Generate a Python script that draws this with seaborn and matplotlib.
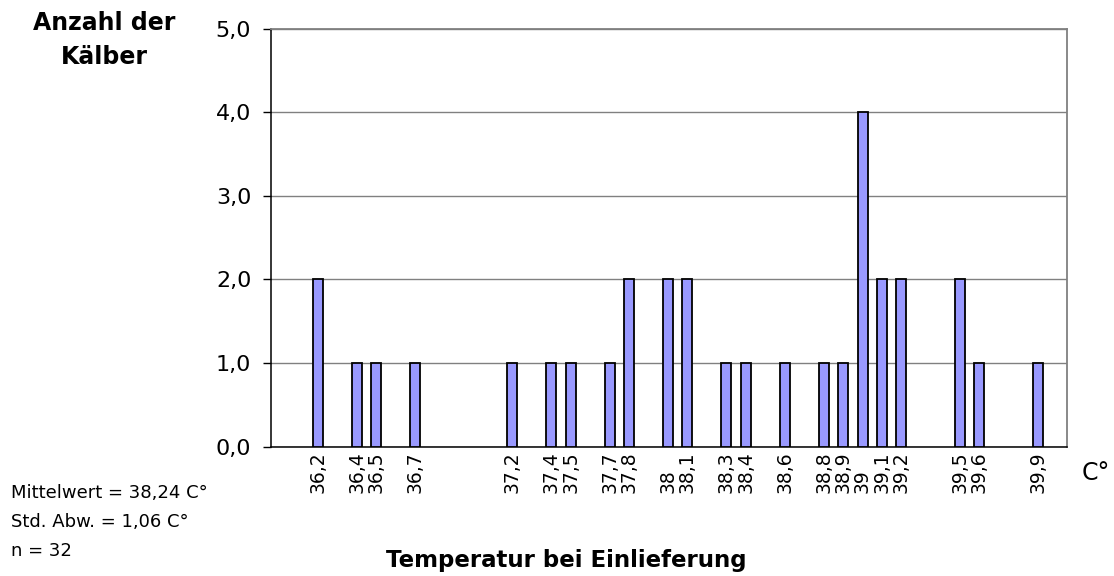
import numpy as np
import pandas as pd
import seaborn as sns
import matplotlib.pyplot as plt
from matplotlib import ticker

# Temperatur bei Einlieferung (°C) und Anzahl der Kälber
temps = [36.2, 36.4, 36.5, 36.7, 37.2, 37.4, 37.5, 37.7, 37.8, 38.0, 38.1,
         38.3, 38.4, 38.6, 38.8, 38.9, 39.0, 39.1, 39.2, 39.5, 39.6, 39.9]
counts = [2, 1, 1, 1, 1, 1, 1, 1, 2, 2, 2,
          1, 1, 1, 1, 1, 4, 2, 2, 2, 1, 1]
y_ticks = [0, 1, 2, 3, 4, 5]
stats_text = "Mittelwert = 38,24 C°\nStd. Abw. = 1,06 C°\nn = 32"

plt.rcParams['font.family'] = ['DejaVu Sans']

df = pd.DataFrame({'temp': temps, 'count': counts})

fig = plt.figure(figsize=(11.14, 5.76), dpi=100)
ax = fig.add_axes([0.2430, 0.2245, 0.7145, 0.7257])

sns.barplot(data=df, x='temp', y='count', native_scale=True, width=0.514,
            color='#9999FF', saturation=1, edgecolor='black', linewidth=1.3,
            ax=ax, zorder=3)

ax.set_xlim(35.9585, 40.049)
ax.set_ylim(0, 5)

ax.set_yticks(y_ticks)
ax.yaxis.set_major_formatter(ticker.FuncFormatter(lambda v, p: f"{v:.1f}".replace('.', ',')))
ax.set_xticks(temps)
# labels are bottom-aligned (text starts at the same height, reads upward)
ax.set_xticklabels([f"{t:g}".replace('.', ',') for t in temps], rotation=90,
                   rotation_mode='anchor', ha='left', va='center')

ax.tick_params(axis='y', labelsize=16, length=6, width=1, color='black', pad=8)
ax.tick_params(axis='x', labelsize=13.5, length=0, pad=33)

ax.yaxis.grid(True, color='#808080', linewidth=1, zorder=0)
ax.set_axisbelow(True)
ax.set_xlabel('')
ax.set_ylabel('')

for side in ['left', 'bottom']:
    ax.spines[side].set_color('black')
    ax.spines[side].set_linewidth(1.1)
for side in ['top', 'right']:
    ax.spines[side].set_color('#808080')
    ax.spines[side].set_linewidth(1.3)

fig.text(104 / 1114, 1 - 11 / 576, 'Anzahl der\nKälber', ha='center', va='top',
         fontsize=17, fontweight='bold', linespacing=1.5)
fig.text(566 / 1114, 1 - 567 / 576, 'Temperatur bei Einlieferung', ha='center',
         va='baseline', fontsize=16.5, fontweight='bold')
fig.text(1096 / 1114, 1 - 473 / 576, 'C°', ha='center', va='center', fontsize=17)
fig.text(11 / 1114, 1 - 484 / 576, stats_text, ha='left', va='top',
         fontsize=13, linespacing=1.8)

fig.savefig('out.png', dpi=100)
